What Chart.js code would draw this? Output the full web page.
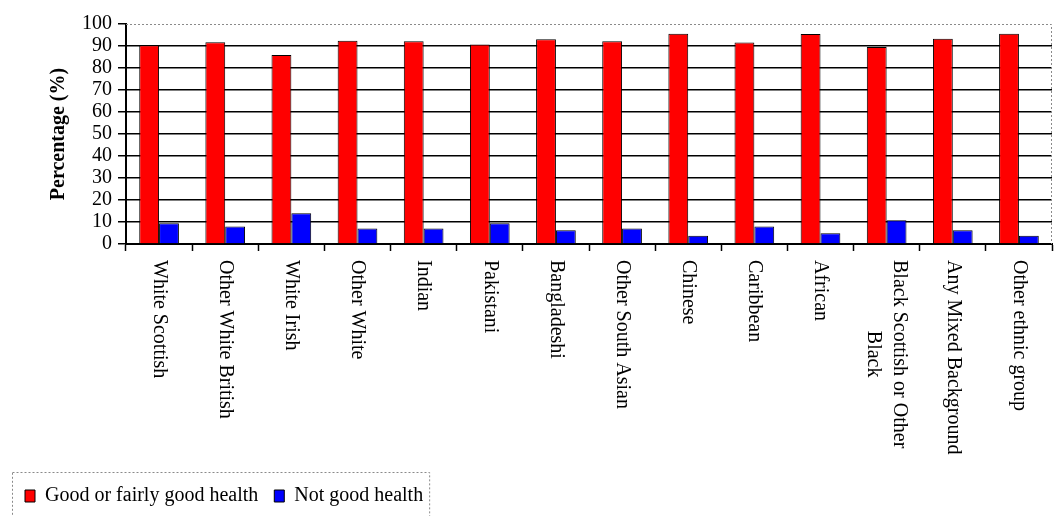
<!DOCTYPE html>
<html>
<head>
<meta charset="utf-8">
<script src="https://cdn.jsdelivr.net/npm/chart.js@4.4.0/dist/chart.umd.min.js"></script>
<style>
  html, body { margin: 0; padding: 0; background: #fff; }
  #wrap { width: 1056px; height: 516px; }
</style>
</head>
<body>
<div id="wrap"><canvas id="myBarChart"></canvas></div>
<script>
// ethnic groups (one label wraps onto two lines)
var groups = ['White Scottish', 'Other White British', 'White Irish', 'Other White', 'Indian', 'Pakistani',
  'Bangladeshi', 'Other South Asian', 'Chinese', 'Caribbean', 'African', ['Black Scottish or Other', 'Black'],
  'Any Mixed Background', 'Other ethnic group'];
var goodHealth = [90.3, 91.7, 85.9, 92.4, 92.2, 90.7, 93.1, 92.2, 95.6, 91.6, 95.4, 89.6, 93.3, 95.6];
var notGoodHealth = [9.4, 7.9, 14.0, 7.0, 7.0, 9.4, 6.2, 7.0, 3.7, 7.9, 4.9, 10.8, 6.2, 3.7];
var yMin = 0;
var yMax = 100;
var yStep = 10;

var serif = '"Liberation Serif", "Times New Roman", serif';

// frame, legend box and the downward-reading category labels
var extras = {
  id: 'extras',
  afterDraw: function (chart) {
    var ctx = chart.ctx;
    var area = chart.chartArea;
    var xs = chart.scales.x;
    ctx.save();

    ctx.strokeStyle = '#8a8a8a';
    ctx.lineWidth = 1;
    ctx.setLineDash([2, 2]);
    ctx.beginPath();
    ctx.moveTo(area.left, area.top + 0.5);
    ctx.lineTo(area.right - 0.5, area.top + 0.5);
    ctx.lineTo(area.right - 0.5, area.bottom);
    ctx.stroke();

    var hb = chart.legend.legendHitBoxes;
    if (hb && hb.length) {
      var l = hb[0].left - 13;
      var r = hb[hb.length - 1].left + hb[hb.length - 1].width + 6;
      var t = hb[0].top - 14;
      ctx.strokeRect(l + 0.5, t + 0.5, r - l, 600);
    }
    ctx.setLineDash([]);

    ctx.fillStyle = '#000';
    ctx.font = '20px ' + serif;
    ctx.textAlign = 'left';
    ctx.textBaseline = 'middle';
    groups.forEach(function (label, i) {
      var lines = Array.isArray(label) ? label : [label];
      var widths = lines.map(function (s) { return ctx.measureText(s).width; });
      var maxW = Math.max.apply(null, widths);
      var cx = xs.getPixelForTick(i);
      lines.forEach(function (line, j) {
        var px = cx + ((lines.length - 1) / 2 - j) * 26;
        ctx.save();
        ctx.translate(px, xs.top + 16 + (maxW - widths[j]) / 2);
        ctx.rotate(Math.PI / 2);
        ctx.fillText(line, 0, 0);
        ctx.restore();
      });
    });
    ctx.restore();
  }
};

var ctx1 = document.getElementById('myBarChart').getContext('2d');

var chart1 = new Chart(ctx1, {
  type: 'bar',
  data: {
    labels: groups,
    datasets: [{
      label: 'Good or fairly good health',
      backgroundColor: '#ff0000',
      borderColor: '#000000',
      borderWidth: 1,
      data: goodHealth
    }, {
      label: 'Not good health',
      backgroundColor: '#0000ff',
      borderColor: '#000000',
      borderWidth: 1,
      data: notGoodHealth
    }]
  },
  options: {
    responsive: true,
    maintainAspectRatio: false,
    animation: false,
    layout: { padding: { top: 24, right: 4, left: 9, bottom: 0 } },
    datasets: { bar: { categoryPercentage: 0.6, barPercentage: 1.0 } },
    plugins: {
      tooltip: { enabled: false },
      legend: {
        position: 'bottom',
        align: 'start',
        labels: {
          color: '#000',
          font: { family: serif, size: 20 },
          boxWidth: 10,
          boxHeight: 12,
          padding: 16
        }
      }
    },
    scales: {
      x: {
        offset: true,
        afterFit: function (scale) { scale.height = 226; },
        ticks: { display: false },
        grid: {
          offset: true,
          drawOnChartArea: false,
          drawTicks: true,
          tickLength: 7,
          tickColor: '#000',
          tickWidth: 1.5
        },
        border: { color: '#000', width: 2 }
      },
      y: {
        min: yMin,
        max: yMax,
        afterFit: function (scale) { scale.width = 117; },
        ticks: {
          stepSize: yStep,
          autoSkip: false,
          color: '#000',
          padding: 6,
          font: { family: serif, size: 20 }
        },
        grid: {
          color: function (c) { return c.tick && c.tick.value === yMax ? 'rgba(0,0,0,0)' : '#000'; },
          lineWidth: 1.5,
          tickLength: 8,
          tickColor: '#000',
          tickWidth: 1.5
        },
        border: { color: '#000', width: 2 },
        title: {
          display: true,
          text: 'Percentage (%)',
          color: '#000',
          font: { family: serif, size: 20, weight: 'bold' },
          padding: { top: 38, bottom: 0 }
        }
      }
    }
  },
  plugins: [extras]
});
</script>
</body>
</html>
